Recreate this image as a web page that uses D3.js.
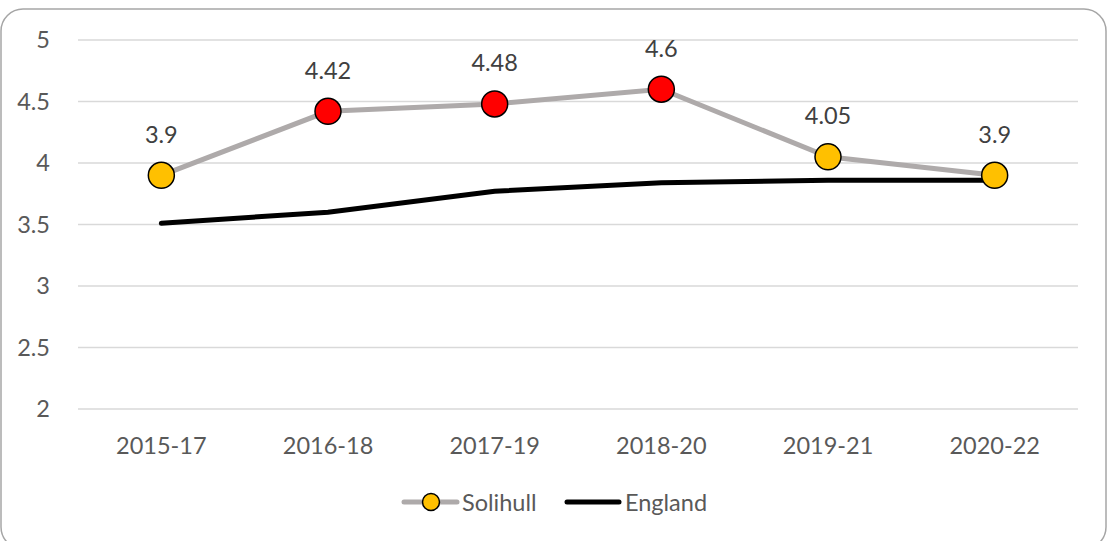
<!DOCTYPE html>
<html>
<head>
<meta charset="utf-8">
<script src="https://cdn.jsdelivr.net/npm/d3@7"></script>
<style>
  body { margin: 0; background: #fff; }
  svg { display: block; font-family: Lato, "Open Sans", sans-serif; }
</style>
</head>
<body>
<div id="chart"></div>
<script>
const periods = ["2015-17", "2016-18", "2017-19", "2018-20", "2019-21", "2020-22"];
const solihull = [3.9, 4.42, 4.48, 4.6, 4.05, 3.9];
const england = [3.51, 3.6, 3.77, 3.84, 3.86, 3.86];
const markerColours = ["#FFC000", "#FF0000", "#FF0000", "#FF0000", "#FFC000", "#FFC000"];
const yTicks = [2, 2.5, 3, 3.5, 4, 4.5, 5];

const width = 1114, height = 541;
const margin = {top: 40, right: 36, bottom: 132, left: 78};
const fontSize = 23.5;

const svg = d3.select("#chart").append("svg")
    .attr("width", width)
    .attr("height", height);

// chart border
svg.append("rect")
    .attr("x", 1).attr("y", 9)
    .attr("width", 1105).attr("height", 540)
    .attr("rx", 22).attr("ry", 22)
    .attr("fill", "#fff")
    .attr("stroke", "#A6A6A6")
    .attr("stroke-width", 1.5);

const x = d3.scaleBand()
    .domain(periods)
    .range([margin.left, width - margin.right]);

const y = d3.scaleLinear()
    .domain([2, 5])
    .range([height - margin.bottom, margin.top]);

// gridlines
svg.append("g")
  .selectAll("line")
  .data(yTicks)
  .enter().append("line")
    .attr("x1", margin.left)
    .attr("x2", width - margin.right)
    .attr("y1", d => y(d))
    .attr("y2", d => y(d))
    .attr("stroke", "#D9D9D9")
    .attr("stroke-width", 1.5);

// y axis labels
const yAxis = d3.axisLeft(y).tickValues(yTicks).tickSize(0).tickPadding(0).tickFormat(d3.format("~g"));
svg.append("g")
    .attr("transform", "translate(" + (margin.left - 28) + ",0)")
    .call(yAxis)
    .call(g => g.select(".domain").remove())
    .selectAll("text")
      .attr("font-size", fontSize)
      .attr("font-family", "Lato, 'Open Sans', sans-serif")
      .attr("fill", "#595959");

// x axis labels
const xAxis = d3.axisBottom(x).tickSize(0).tickPadding(0);
svg.append("g")
    .attr("transform", "translate(0," + (y(2) + 28) + ")")
    .call(xAxis)
    .call(g => g.select(".domain").remove())
    .selectAll("text")
      .attr("font-size", fontSize)
      .attr("font-family", "Lato, 'Open Sans', sans-serif")
      .attr("fill", "#595959");

const cx = d => x(d) + x.bandwidth() / 2;

const line = d3.line()
    .x((d, i) => cx(periods[i]))
    .y(d => y(d));

// England
svg.append("path")
    .datum(england)
    .attr("d", line)
    .attr("fill", "none")
    .attr("stroke", "#000")
    .attr("stroke-width", 5)
    .attr("stroke-linecap", "round");

// Solihull
svg.append("path")
    .datum(solihull)
    .attr("d", line)
    .attr("fill", "none")
    .attr("stroke", "#AEAAAA")
    .attr("stroke-width", 5)
    .attr("stroke-linecap", "round");

svg.append("g")
  .selectAll("circle")
  .data(solihull)
  .enter().append("circle")
    .attr("cx", (d, i) => cx(periods[i]))
    .attr("cy", d => y(d))
    .attr("r", 13)
    .attr("fill", (d, i) => markerColours[i])
    .attr("stroke", "#000")
    .attr("stroke-width", 1.5);

// data labels
svg.append("g")
  .selectAll("text")
  .data(solihull)
  .enter().append("text")
    .attr("x", (d, i) => cx(periods[i]))
    .attr("y", d => y(d) - 32.5)
    .attr("text-anchor", "middle")
    .attr("font-size", fontSize)
    .attr("fill", "#404040")
    .text(d => d);

// legend
const legend = svg.append("g").attr("transform", "translate(0,502)");
legend.append("line")
    .attr("x1", 404).attr("x2", 457)
    .attr("stroke", "#AEAAAA").attr("stroke-width", 5).attr("stroke-linecap", "round");
legend.append("circle")
    .attr("cx", 431).attr("r", 8.5)
    .attr("fill", "#FFC000").attr("stroke", "#000").attr("stroke-width", 1.5);
legend.append("text")
    .attr("x", 462).attr("y", 8.5)
    .attr("font-size", fontSize).attr("fill", "#595959")
    .text("Solihull");
legend.append("line")
    .attr("x1", 567).attr("x2", 619)
    .attr("stroke", "#000").attr("stroke-width", 5).attr("stroke-linecap", "round");
legend.append("text")
    .attr("x", 625).attr("y", 8.5)
    .attr("font-size", fontSize).attr("fill", "#595959")
    .text("England");
</script>
</body>
</html>
